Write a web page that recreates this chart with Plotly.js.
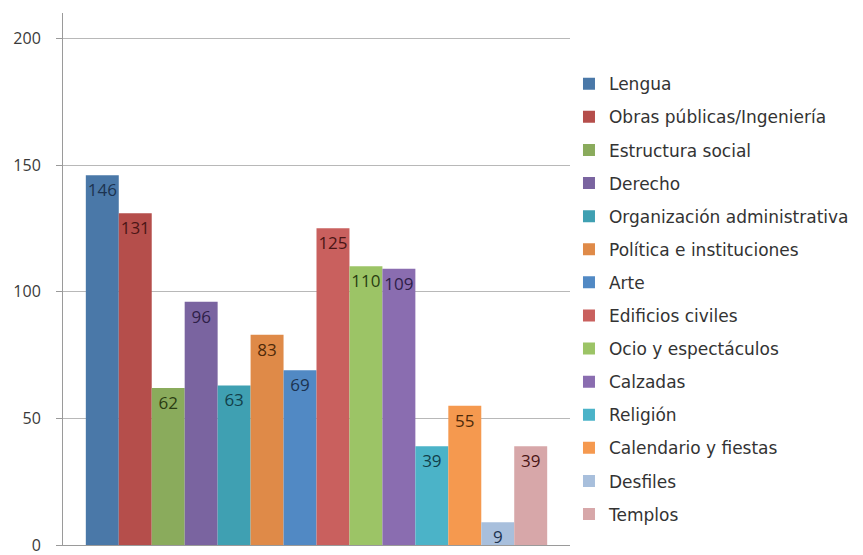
<!DOCTYPE html>
<html>
<head>
<meta charset="utf-8">
<script src="https://cdn.plot.ly/plotly-3.0.1.min.js"></script>
<style>html,body{margin:0;padding:0;background:#fff;}#chart{width:863px;height:555px;}</style>
</head>
<body>
<div id="chart"></div>
<script>
const categories = ["Lengua","Obras públicas/Ingeniería","Estructura social","Derecho","Organización administrativa","Política e instituciones","Arte","Edificios civiles","Ocio y espectáculos","Calzadas","Religión","Calendario y fiestas","Desfiles","Templos"];
const values = [146,131,62,96,63,83,69,125,110,109,39,55,9,39];
const barColors = ["#4a78a8","#b54e4b","#8aab5c","#7a64a0","#3fa0b2","#df8a48","#5189c4","#c9605e","#9cc466","#8a6db0","#4bb3c8","#f5994f","#a8bfdc","#d7a7a9"];
const labelColors = ["#1c3350","#4a1515","#2a3d12","#2e2048","#123f4a","#4f2a0a","#1c3350","#4a1515","#2a3d12","#2e2048","#123f4a","#4f2a0a","#1c3350","#4a1515"];
const yTicks = [0,50,100,150,200];

const traces = categories.map((name, i) => ({
  type: 'bar',
  name: name,
  x: [''],
  y: [values[i]],
  text: [String(values[i])],
  textposition: 'inside',
  insidetextanchor: 'end',
  textangle: 0,
  constraintext: 'none',
  textfont: {family: 'Open Sans, sans-serif', size: 17, color: labelColors[i]},
  marker: {color: barColors[i], line: {width: 0}},
  legendgroup: 'g' + i,
  hoverinfo: 'skip'
}));

const layout = {
  width: 863, height: 555,
  paper_bgcolor: '#fff', plot_bgcolor: '#fff',
  margin: {l: 63, r: 293, t: 13, b: 10, pad: 0, autoexpand: false},
  barmode: 'group',
  bargap: 0.09,
  bargroupgap: 0,
  font: {family: 'Open Sans, sans-serif', color: '#404040'},
  xaxis: {
    showticklabels: false, showgrid: false, zeroline: false,
    showline: true, linecolor: '#9a9a9a', linewidth: 1, ticks: ''
  },
  yaxis: {
    range: [0, 210], tickvals: yTicks, ticktext: yTicks.map(String),
    showgrid: true, gridcolor: '#b8b8b8', gridwidth: 1,
    zeroline: false, showline: true, linecolor: '#9a9a9a', linewidth: 1,
    ticks: 'outside', ticklen: 6, tickcolor: '#9a9a9a',
    ticklabelstandoff: 12, ticklabeloverflow: 'allow',
    tickfont: {family: 'Open Sans, sans-serif', size: 16, color: '#3a3a3a'}
  },
  showlegend: true,
  legend: {
    x: 0.998, xanchor: 'left', y: 0.9, yanchor: 'top',
    traceorder: 'grouped', tracegroupgap: 8,
    font: {family: 'DejaVu Sans, sans-serif', size: 17, color: '#333'},
    itemwidth: 30, bgcolor: 'rgba(0,0,0,0)'
  }
};

Plotly.newPlot('chart', traces, layout, {displayModeBar: false, staticPlot: true});
</script>
</body>
</html>
